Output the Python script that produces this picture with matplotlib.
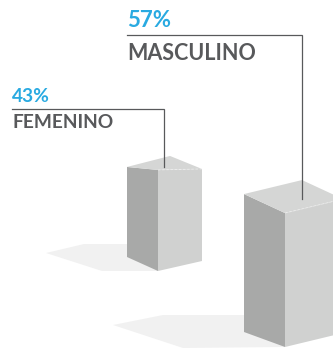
import numpy as np
import matplotlib.pyplot as plt
from matplotlib.patches import Polygon

# share of each group (%)
labels = ["FEMENINO", "MASCULINO"]
values = [43, 57]

BLUE = "#29aae1"
GRAY_TXT = "#58595b"
LEFT_C = "#a8a9a8"
RIGHT_C = "#d0d1d0"
TOP_C = "#d5d6d5"
SHADOW_C = "#f1f1f1"

# pixels of box height per percent
k = 2.35

# box placement: front bottom corner, bottom/top edge vectors, back corner offset,
# shadow outline (offsets from front bottom corner), leader line and label spots
boxes = [
    dict(front=(158, 271), lb=(-31, -14), rb=(44, -10),
         lt=(-31, -3), rt=(44, -1), back=(12, -14),
         shadow=[(-112, -18), (-74, -27), (-18, -27), (0, 0), (-56, 0)],
         lead_x=164, lead_y=109, text_x=12,
         pct_y=102, name_y=128, pct_size=13.8, name_size=13.8),
    dict(front=(285, 347), lb=(-41, -15), rb=(58, -14),
         lt=(-41, -19), rt=(58, -14), back=(17, -33),
         shadow=[(-172, -22), (-122, -32), (-35, -32), (0, 0), (-102, 1)],
         lead_x=302, lead_y=35, text_x=127,
         pct_y=27, name_y=60, pct_size=16, name_size=15.5),
]

fig = plt.figure(figsize=(3.33, 3.48), dpi=100)
ax = fig.add_axes([0, 0, 1, 1])
ax.set_xlim(0, 333)
ax.set_ylim(348, 0)
ax.axis("off")

def add(pts, color, z):
    ax.add_patch(Polygon(pts, closed=True, facecolor=color, edgecolor="none", zorder=z))

for lab, v, b in zip(labels, values, boxes):
    fx, fy = b["front"]
    h = v * k
    # shadow on the floor
    add([(fx + dx, fy + dy) for dx, dy in b["shadow"]], SHADOW_C, 1)
    ft = (fx, fy - h)
    lb = (fx + b["lb"][0], fy + b["lb"][1])
    rb = (fx + b["rb"][0], fy + b["rb"][1])
    ltp = (ft[0] + b["lt"][0], ft[1] + b["lt"][1])
    rtp = (ft[0] + b["rt"][0], ft[1] + b["rt"][1])
    bk = (ft[0] + b["back"][0], ft[1] + b["back"][1])
    add([lb, (fx, fy), ft, ltp], LEFT_C, 2)
    add([(fx, fy), rb, rtp, ft], RIGHT_C, 2)
    add([ltp, ft, rtp, bk], TOP_C, 3)
    ax.plot([ft[0], rtp[0]], [ft[1], rtp[1]], color="white", lw=0.6,
            ls=(0, (3, 2)), alpha=0.5, zorder=4)

    # leader line from the label down onto the top face
    cy = np.mean([ltp[1], ft[1], rtp[1], bk[1]]) + 2
    ax.plot([b["text_x"], b["lead_x"], b["lead_x"]], [b["lead_y"], b["lead_y"], cy],
            color=GRAY_TXT, lw=0.9, zorder=5, solid_joinstyle="miter")

    ax.text(b["text_x"], b["pct_y"], f"{v}%", color=BLUE, fontsize=b["pct_size"],
            fontfamily="Lato", fontweight="bold", va="baseline", ha="left")
    ax.text(b["text_x"], b["name_y"], lab, color=GRAY_TXT, fontsize=b["name_size"],
            fontfamily="Lato", fontweight="bold", va="baseline", ha="left")

fig.savefig("out.png", dpi=100)
